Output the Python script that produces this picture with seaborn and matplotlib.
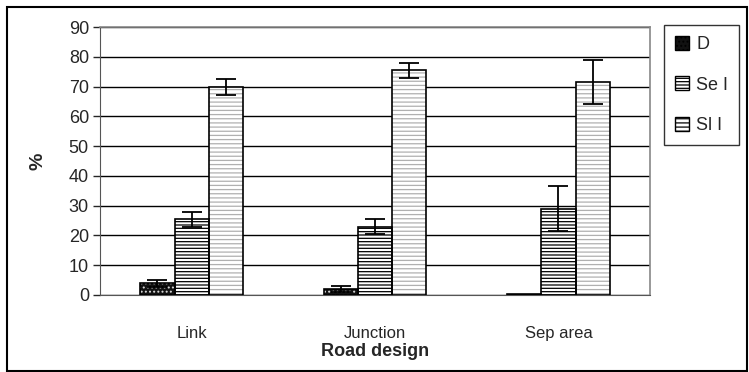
import numpy as np
import pandas as pd
import matplotlib
matplotlib.use("Agg")
import matplotlib.pyplot as plt
import seaborn as sns
from matplotlib.patches import Rectangle, Patch

# data
categories = ["Link", "Junction", "Sep area"]
groups = ["D", "Se I", "Sl I"]
val_d = [4.0, 2.0, 0.3]
val_se = [25.5, 23.0, 29.0]
val_sl = [70.0, 75.5, 71.5]
err_d = [1.2, 1.0, 0.0]
err_se = [2.5, 2.5, 7.5]
err_sl = [2.7, 2.5, 7.3]

df = pd.DataFrame({
    "design": categories * 3,
    "group": [g for g in groups for _ in categories],
    "value": val_d + val_se + val_sl,
    "err": err_d + err_se + err_sl,
})

sns.set_style("white")
plt.rcParams["font.family"] = ["Liberation Sans", "DejaVu Sans"]
plt.rcParams["hatch.linewidth"] = 0.9

fig = plt.figure(figsize=(7.49, 3.72), dpi=100)
ax = fig.add_axes([0.1335, 0.207, 0.7345, 0.72])

sns.barplot(data=df, x="design", y="value", hue="group", order=categories,
            hue_order=groups, errorbar=None, width=0.56, legend=False, ax=ax)

styles = {
    "D": dict(face="#111111", hatch="....", hcol="#dddddd"),
    "Se I": dict(face="white", hatch="-----", hcol="black"),
    "Sl I": dict(face="white", hatch="----", hcol="#b0b0b0"),
}

bars = [p for p in ax.patches if isinstance(p, Rectangle)][:9]
for i, p in enumerate(bars):
    g = groups[i // 3]
    c = i % 3
    st = styles[g]
    p.set_facecolor(st["face"])
    p.set_hatch(st["hatch"])
    p.set_edgecolor(st["hcol"])
    p.set_linewidth(0)
    ax.add_patch(Rectangle((p.get_x(), 0), p.get_width(), p.get_height(),
                           fill=False, edgecolor="black", linewidth=1.2, zorder=3))
    e = df.loc[(df["group"] == g) & (df["design"] == categories[c]), "err"].iloc[0]
    if e > 0:
        ax.errorbar(p.get_x() + p.get_width() / 2, p.get_height(), yerr=e,
                    fmt="none", ecolor="black", elinewidth=1.3, capsize=7,
                    capthick=1.3, zorder=4)

ax.set_ylim(0, 90)
ax.set_yticks(np.arange(0, 91, 10))
ax.set_xlim(-0.5, 2.5)
ax.yaxis.grid(True, color="black", linewidth=1)
ax.set_axisbelow(True)

ax.set_xticks([0.5, 1.5], minor=True)
ax.set_xticks([0, 1, 2])
ax.set_xticklabels(categories)
ax.tick_params(axis="x", which="major", length=0, pad=22, labelsize=12)
ax.tick_params(axis="x", which="minor", length=5, width=1, color="#555555", direction="out")
ax.tick_params(axis="y", length=5, width=1, direction="out", labelsize=13, pad=3)
ax.tick_params(axis="y", left=True)

for s in ["top", "right"]:
    ax.spines[s].set_color("#888888")
    ax.spines[s].set_linewidth(1.2)
ax.spines["left"].set_color("#555555")
ax.spines["bottom"].set_color("#555555")

ax.set_xlabel("Road design", fontsize=13, fontweight="bold", labelpad=2)
ax.set_ylabel("%", fontsize=14, fontweight="bold", labelpad=16)

handles = [Patch(facecolor=styles[g]["face"], hatch=styles[g]["hatch"],
                 edgecolor="black", label=g) for g in groups]
leg = fig.legend(handles=handles, loc="upper left",
                 bbox_to_anchor=(664 / 749, 1 - 25 / 372), fontsize=13,
                 frameon=True, fancybox=False, edgecolor="black",
                 handlelength=0.8, handleheight=0.8, labelspacing=1.3,
                 borderpad=0.6, handletextpad=0.4, borderaxespad=0)
leg.get_frame().set_linewidth(1)

fig.add_artist(Rectangle((7 / 749, 0.003), 740 / 749, 1 - 7 / 372 - 0.003,
                         transform=fig.transFigure, fill=False,
                         edgecolor="black", linewidth=1.5))

fig.savefig("out.png", dpi=100)
